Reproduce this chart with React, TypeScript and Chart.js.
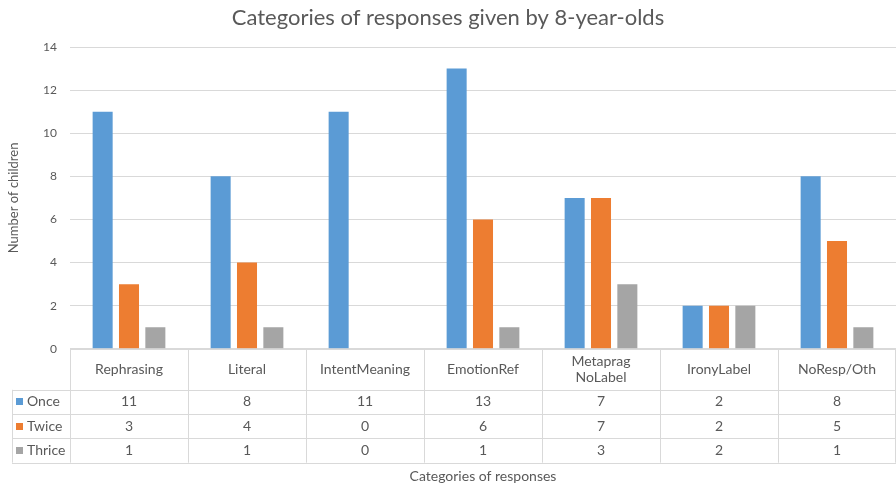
import React, { useEffect, useRef } from "react";
import { Chart, registerables } from "chart.js";

Chart.register(...registerables);

const categories: string[][] = [
  ["Rephrasing"],
  ["Literal"],
  ["IntentMeaning"],
  ["EmotionRef"],
  ["Metaprag", "NoLabel"],
  ["IronyLabel"],
  ["NoResp/Oth"],
];
const onceValues = [11, 8, 11, 13, 7, 2, 8];
const twiceValues = [3, 4, 0, 6, 7, 2, 5];
const thriceValues = [1, 1, 0, 1, 3, 2, 1];
const seriesNames = ["Once", "Twice", "Thrice"];
const seriesColors = ["#5B9BD5", "#ED7D31", "#A5A5A5"];
const yTicks = [0, 2, 4, 6, 8, 10, 12, 14];

const FONT = "Lato, 'Noto Sans', sans-serif";
const TEXT = "#595959";
const LINE = "#D9D9D9";

const tablePlugin = {
  id: "dataTable",
  afterDraw(chart: any) {
    const ctx = chart.ctx as CanvasRenderingContext2D;
    const area = chart.chartArea;
    const x = chart.scales.x;
    const n = categories.length;
    const cw = (area.right - area.left) / n;
    const top = area.bottom;
    const headerBottom = top + 41;
    const rowH = 24.3;
    const rows = [onceValues, twiceValues, thriceValues];
    const tableBottom = headerBottom + rowH * rows.length;
    const leftEdge = 12;

    ctx.save();
    ctx.strokeStyle = LINE;
    ctx.lineWidth = 1;
    ctx.beginPath();
    const hl = (x1: number, x2: number, y: number) => {
      const yy = Math.round(y) + 0.5;
      ctx.moveTo(x1, yy);
      ctx.lineTo(x2, yy);
    };
    const vl = (xx: number, y1: number, y2: number) => {
      const x0 = Math.round(xx) + 0.5;
      ctx.moveTo(x0, y1);
      ctx.lineTo(x0, y2);
    };
    hl(area.left, area.right, top);
    hl(leftEdge, area.right, headerBottom);
    for (let r = 1; r <= rows.length; r++) {
      hl(leftEdge, area.right, headerBottom + rowH * r);
    }
    vl(leftEdge, headerBottom, tableBottom);
    for (let i = 0; i <= n; i++) {
      const bx = Math.min(area.left + cw * i, area.right - 1);
      vl(bx, top, tableBottom);
    }
    ctx.stroke();

    ctx.fillStyle = TEXT;
    ctx.font = `14px ${FONT}`;
    ctx.textAlign = "center";
    ctx.textBaseline = "middle";
    categories.forEach((lines, i) => {
      const cx = x.getPixelForValue(i);
      const cy = (top + headerBottom) / 2;
      const lh = 16;
      lines.forEach((t, j) => {
        ctx.fillText(t, cx, cy + (j - (lines.length - 1) / 2) * lh);
      });
    });
    rows.forEach((vals, r) => {
      const cy = headerBottom + rowH * r + rowH / 2;
      vals.forEach((v, i) => {
        ctx.fillText(String(v), x.getPixelForValue(i), cy);
      });
      ctx.fillStyle = seriesColors[r];
      ctx.fillRect(16, Math.round(cy - 3.5), 7, 7);
      ctx.fillStyle = TEXT;
      ctx.textAlign = "left";
      ctx.fillText(seriesNames[r], 27, cy);
      ctx.textAlign = "center";
    });
    ctx.restore();
  },
};

export default function App() {
  const ref = useRef<HTMLCanvasElement | null>(null);
  useEffect(() => {
    if (!ref.current) return;
    const chart = new Chart(ref.current, {
      type: "bar",
      data: {
        labels: categories.map((c) => c.join(" ")),
        datasets: [onceValues, twiceValues, thriceValues].map((d, i) => ({
          label: seriesNames[i],
          data: d,
          backgroundColor: seriesColors[i],
          categoryPercentage: 0.67,
          barPercentage: 0.76,
        })),
      },
      options: {
        animation: false,
        responsive: true,
        maintainAspectRatio: false,
        layout: { padding: { left: 0, right: 0, top: 0, bottom: 0 } },
        plugins: {
          legend: { display: false },
          tooltip: { enabled: false },
          title: {
            display: true,
            text: "Categories of responses given by 8-year-olds",
            color: TEXT,
            font: { family: FONT, size: 22, weight: "normal" },
            padding: { top: 5, bottom: 15.6 },
          },
        },
        scales: {
          x: {
            grid: { display: false, drawTicks: false },
            border: { display: false },
            ticks: { display: false },
            title: {
              display: true,
              text: "Categories of responses",
              color: TEXT,
              font: { family: FONT, size: 14 },
              padding: { top: 119.4, bottom: 3 },
            },
          },
          y: {
            min: 0,
            max: 14,
            afterFit: (s: any) => {
              s.width = 70;
            },
            afterBuildTicks: (s: any) => {
              s.ticks = yTicks.map((v) => ({ value: v }));
            },
            grid: { color: LINE, drawTicks: false },
            border: { display: false },
            ticks: {
              color: TEXT,
              font: { family: FONT, size: 12 },
              padding: 13,
            },
            title: {
              display: true,
              text: "Number of children",
              color: TEXT,
              font: { family: FONT, size: 13 },
              padding: { top: 6, bottom: 0 },
            },
          },
        },
      },
      plugins: [tablePlugin],
    });
    return () => chart.destroy();
  }, []);
  return (
    <div style={{ position: "absolute", left: 0, top: 0, width: 896, height: 488, background: "#fff" }}>
      <canvas ref={ref} />
    </div>
  );
}
